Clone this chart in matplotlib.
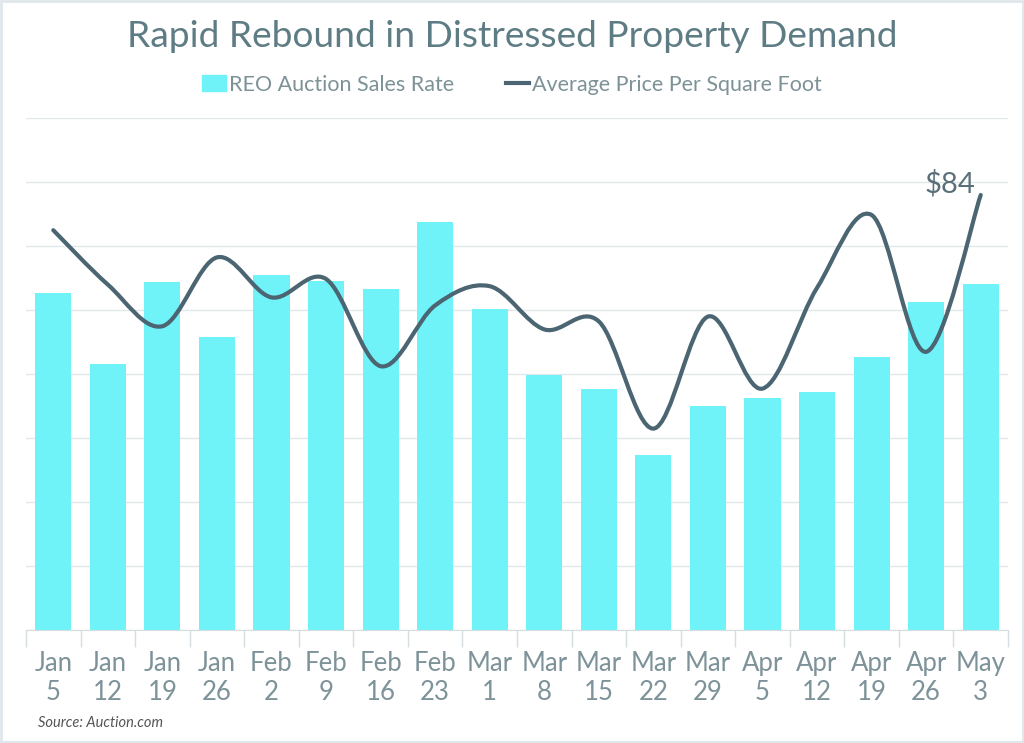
import matplotlib
matplotlib.use("Agg")
import matplotlib.pyplot as plt
from matplotlib.path import Path
from matplotlib.patches import PathPatch, Rectangle
from matplotlib.lines import Line2D
import numpy as np

months = ["Jan", "Jan", "Jan", "Jan", "Feb", "Feb", "Feb", "Feb", "Mar", "Mar",
          "Mar", "Mar", "Mar", "Apr", "Apr", "Apr", "Apr", "May"]
days = ["5", "12", "19", "26", "2", "9", "16", "23", "1", "8",
        "15", "22", "29", "5", "12", "19", "26", "3"]
sales_rate = [5.27, 4.16, 5.44, 4.58, 5.55, 5.45, 5.33, 6.38, 5.02, 3.98,
              3.77, 2.73, 3.50, 3.63, 3.72, 4.27, 5.13, 5.41]
price_sqft = [81.8, 78.4, 75.8, 80.1, 77.6, 78.75, 73.3, 77.1, 78.3, 75.6,
              76.1, 69.4, 76.4, 71.9, 78.2, 82.75, 74.2, 84.0]

FONT = ["Lato", "DejaVu Sans"]
plt.rcParams["font.family"] = FONT

bar_color = "#6ff3f8"
line_color = "#4b6672"
grid_color = "#e1e8ea"
text_color = "#7d9399"

fig = plt.figure(figsize=(10.24, 7.43), dpi=100)
fig.patch.set_facecolor("white")
ax = fig.add_axes([26 / 1024, 113 / 743, 982 / 1024, 512 / 743])
ax2 = ax.twinx()

x = np.arange(len(days))
ax.bar(x, sales_rate, width=0.66, color=bar_color, zorder=2)
ax.set_xlim(-0.5, len(days) - 0.5)
ax.set_ylim(0, 8)
ax.set_yticks(np.arange(0, 9, 1))
ax.yaxis.grid(True, color=grid_color, linewidth=1.0, zorder=0)
ax.set_axisbelow(True)
ax.tick_params(axis="y", left=False, labelleft=False)
for s in ["top", "right", "left"]:
    ax.spines[s].set_visible(False)
ax.spines["bottom"].set_color("#d5dde0")
ax.set_xticks(x)
ax.set_xticklabels([f"{m}\n{d}" for m, d in zip(months, days)],
                   fontsize=18.5, color=text_color, fontweight="normal", linespacing=1.22)
ax.tick_params(axis="x", length=0, pad=15)
ax.set_xticks(np.arange(-0.5, len(days), 1), minor=True)
ax.tick_params(axis="x", which="minor", length=12, color="#d5dde0", width=1)

# smooth line (Catmull-Rom converted to cubic Bezier)
y = np.array(price_sqft, dtype=float)
verts = [(x[0], y[0])]
codes = [Path.MOVETO]
n = len(x)
for i in range(n - 1):
    p0 = (x[i - 1], y[i - 1]) if i > 0 else (x[i], y[i])
    p1 = (x[i], y[i])
    p2 = (x[i + 1], y[i + 1])
    p3 = (x[i + 2], y[i + 2]) if i + 2 < n else (x[i + 1], y[i + 1])
    c1 = (p1[0] + (p2[0] - p0[0]) / 6, p1[1] + (p2[1] - p0[1]) / 6)
    c2 = (p2[0] - (p3[0] - p1[0]) / 6, p2[1] - (p3[1] - p1[1]) / 6)
    verts += [c1, c2, p2]
    codes += [Path.CURVE4] * 3
ax2.add_patch(PathPatch(Path(verts, codes), facecolor="none", edgecolor=line_color,
                        linewidth=3, capstyle="round", joinstyle="round", zorder=3))
ax2.set_ylim(84 - 435 / 16, 84 - 435 / 16 + 32)
ax2.set_xlim(-0.5, len(days) - 0.5)
ax2.axis("off")
ax2.annotate(f"${price_sqft[-1]:.0f}", (x[-1], price_sqft[-1]), xytext=(-5, 11),
             textcoords="offset pixels", ha="right", va="center",
             fontsize=21, color="#5a7079", fontweight="normal")

fig.text(0.5, 0.951, "Rapid Rebound in Distressed Property Demand", ha="center", va="center",
         fontsize=26.7, color="#5e7c84", fontweight="normal")

handles = [Rectangle((0, 0), 1, 1, color=bar_color),
           Line2D([0], [0], color=line_color, linewidth=3)]
fig.legend(handles, ["REO Auction Sales Rate", "Average Price Per Square Foot"],
           loc="center", bbox_to_anchor=(0.5, 0.886), ncol=2, frameon=False,
           labelcolor="#7d9297", handlelength=1.1, handleheight=0.8,
           handletextpad=0.15, columnspacing=2.4,
           prop={"family": FONT, "weight": "normal", "size": 15.5})

fig.text(38 / 1024, 1 - 723 / 743, "Source: Auction.com", ha="left", va="center",
         fontsize=10.5, style="italic", color="#555555")

fig.add_artist(Rectangle((0.001, 0.002), 0.998, 0.996, transform=fig.transFigure,
                         fill=False, edgecolor="#dfe7ea", linewidth=2))

fig.savefig("out.png", dpi=100, facecolor="white")
